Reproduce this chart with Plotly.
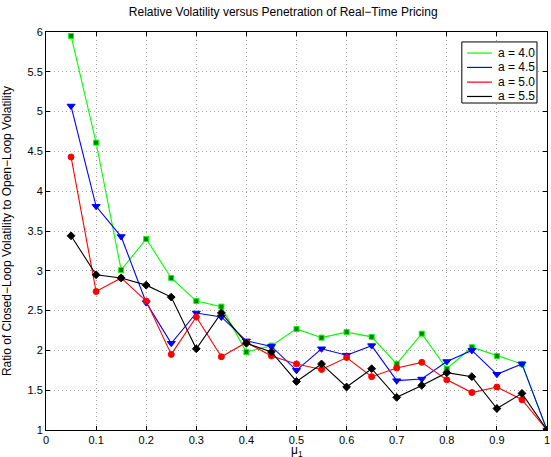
import plotly.graph_objects as go

mu = [0.05, 0.1, 0.15, 0.2, 0.25, 0.3, 0.35, 0.4, 0.45, 0.5, 0.55, 0.6, 0.65, 0.7, 0.75, 0.8, 0.85, 0.9, 0.95, 1.0]
a40 = [5.95, 4.61, 3.01, 3.40, 2.91, 2.62, 2.55, 1.98, 2.06, 2.27, 2.16, 2.23, 2.17, 1.83, 2.21, 1.77, 2.04, 1.93, 1.83, 1.0]
a45 = [5.07, 3.81, 3.43, 2.60, 2.09, 2.47, 2.42, 2.12, 2.05, 1.75, 2.02, 1.94, 2.06, 1.62, 1.64, 1.86, 2.00, 1.70, 1.83, 1.0]
a50 = [4.43, 2.74, 2.91, 2.62, 1.95, 2.42, 1.92, 2.10, 1.93, 1.83, 1.76, 1.91, 1.67, 1.78, 1.85, 1.63, 1.47, 1.54, 1.38, 1.0]
a55 = [3.44, 2.95, 2.91, 2.82, 2.67, 2.02, 2.47, 2.09, 1.98, 1.61, 1.83, 1.54, 1.77, 1.41, 1.56, 1.72, 1.67, 1.27, 1.46, 1.0]

names = ["a = 4.0", "a = 4.5", "a = 5.0", "a = 5.5"]
series = [a40, a45, a50, a55]
colors = ["#00ff00", "#0000ff", "#ff0000", "#000000"]
mfill = ["#087a08", "#0000ff", "#ff0000", "#000000"]
symbols = ["square", "triangle-down", "circle", "diamond"]
msizes = [5, 7, 6, 6]

x_ticks = [0, 0.1, 0.2, 0.3, 0.4, 0.5, 0.6, 0.7, 0.8, 0.9, 1]
x_labels = ["0", "0.1", "0.2", "0.3", "0.4", "0.5", "0.6", "0.7", "0.8", "0.9", "1"]
y_ticks = [1, 1.5, 2, 2.5, 3, 3.5, 4, 4.5, 5, 5.5, 6]
y_labels = ["1", "1.5", "2", "2.5", "3", "3.5", "4", "4.5", "5", "5.5", "6"]

fig = go.Figure()
for n, s, c, mf, sym, ms in zip(names, series, colors, mfill, symbols, msizes):
    fig.add_trace(go.Scatter(
        x=mu, y=s, mode="lines+markers", name=n, showlegend=False,
        line=dict(color=c, width=1.1),
        marker=dict(symbol=sym, size=ms, color=mf, line=dict(color=c, width=1)),
    ))

axis_common = dict(
    showline=True, linecolor="black", linewidth=1, mirror="allticks",
    ticks="inside", ticklen=4, tickcolor="black",
    showgrid=True, gridcolor="#a0a0a0", griddash="1px,3px", gridwidth=1,
    zeroline=False, tickfont=dict(size=11, color="black"), automargin=False,
)
fig.update_xaxes(range=[0, 1], tickvals=x_ticks, ticktext=x_labels, **axis_common)
fig.update_yaxes(range=[1, 6], tickvals=y_ticks, ticktext=y_labels,
                 title=dict(text="Ratio of Closed\u2212Loop Volatility to Open\u2212Loop Volatility",
                            font=dict(size=12)),
                 **axis_common)

# x-axis label placed just under the tick labels, as in the original
annotations = [dict(xref="paper", yref="paper", x=0.5, y=-0.052, text="μ<sub>1</sub>",
                    showarrow=False, xanchor="center", yanchor="middle",
                    font=dict(size=12, color="black"))]

# legend box drawn in the upper-right corner (paper coordinates)
shapes = [dict(type="rect", xref="paper", yref="paper", x0=0.830, x1=0.980, y0=0.8216, y1=0.975,
               line=dict(color="black", width=1), fillcolor="white", layer="above")]
rows = [0.947, 0.911, 0.874, 0.838]
for n, c, ry in zip(names, colors, rows):
    shapes.append(dict(type="line", xref="paper", yref="paper", x0=0.8403, x1=0.8902, y0=ry, y1=ry,
                       line=dict(color=c, width=1.2), layer="above"))
    annotations.append(dict(xref="paper", yref="paper", x=0.899, y=ry, text=n, showarrow=False,
                            xanchor="left", yanchor="middle", font=dict(size=12, color="black")))

fig.update_layout(
    width=551, height=457,
    margin=dict(l=46, r=4, t=32, b=27),
    paper_bgcolor="white", plot_bgcolor="white",
    font=dict(family="Liberation Sans, Arial, sans-serif", color="black", size=11),
    title=dict(text="Relative Volatility versus Penetration of Real\u2212Time Pricing",
               x=0.514, xanchor="center", y=0.974, yanchor="middle",
               font=dict(size=12)),
    showlegend=False,
    shapes=shapes, annotations=annotations,
)
fig.write_html("out.html", config={"displayModeBar": False},
               post_script="document.body.style.margin='0';document.body.style.overflow='hidden';")
